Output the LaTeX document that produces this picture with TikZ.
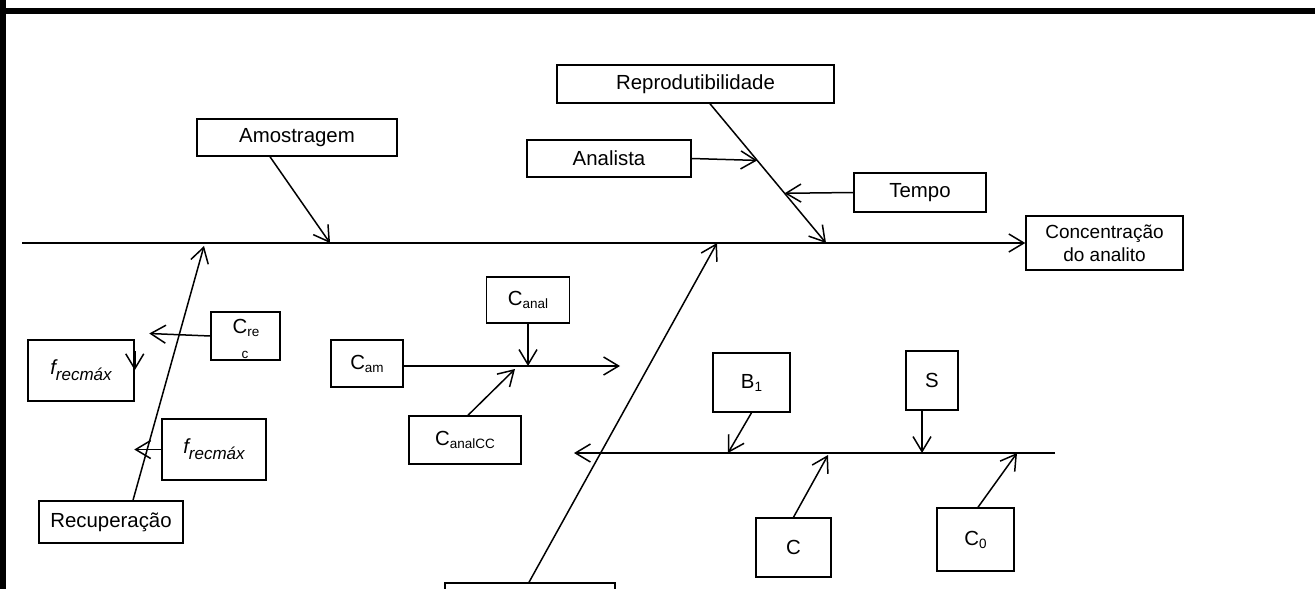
\documentclass[tikz,border=0pt]{standalone}
\usepackage{fontspec}
\setmainfont{Liberation Sans}
\usetikzlibrary{arrows.meta,calc}
\newcommand\mysub[1]{\raisebox{-3pt}{\fontsize{13.5}{14}\selectfont #1}}
\newcommand\myfrec{{\itshape f\raisebox{-6pt}{\fontsize{17}{17}\selectfont recmáx}}}
\tikzset{
  box/.style={draw, line width=1.5pt, inner sep=0pt, font=\fontsize{20.4}{24}\selectfont},
  ln/.style={line width=1.5pt},
  arr/.style={line width=1.5pt, -{Straight Barb[length=15pt,width=18pt]}},
}
\begin{document}
\begin{tikzpicture}[x=1pt,y=-1pt]
\useasboundingbox (0,0) rectangle (1315,589);
\clip (0,0) rectangle (1315,589);
% frame bands
\fill[black] (0,8) rectangle (1315,14);
\fill[black] (0,0) rectangle (6,589);
% nodes
\node[box, minimum width=200pt, minimum height=37pt] (amo) at (297,137.5) {Amostragem};
\node[box, minimum width=277pt, minimum height=38pt] (rep) at (695.5,84) {Reprodutibilidade};
\node[box, minimum width=164pt, minimum height=37pt] (ana) at (609,158.5) {Analista};
\node[box, minimum width=132pt, minimum height=39pt] (tem) at (920,192.5) {Tempo};
\node[box, minimum width=157pt, minimum height=54pt, align=center, font=\fontsize{19}{23}\selectfont] (con) at (1104.5,243) {Concentração\\do analito};
\node[box, minimum width=144pt, minimum height=42pt] (rec) at (111,522) {Recuperação};
\node[box, minimum width=69pt, minimum height=48pt] (crec) at (245.5,336) {};
\node[font=\fontsize{20.4}{24}\selectfont, inner sep=0pt] (crect) at (246,328) {C\mysub{re}};
\node[font=\fontsize{13.5}{14}\selectfont, inner sep=0pt] (crecc) at (245,355) {c};
\node[box, minimum width=106pt, minimum height=61pt] (fa) at (81,370.5) {\myfrec};
\node[box, minimum width=104pt, minimum height=61pt] (fb) at (214,449.5) {\myfrec};
\node[box, minimum width=72pt, minimum height=47pt] (cam) at (367,363.5) {C\mysub{am}};
\node[box, minimum width=83pt, minimum height=46pt] (can) at (528,300) {C\mysub{anal}};
\node[box, minimum width=112pt, minimum height=48pt] (cac) at (465,440) {C\mysub{analCC}};
\node[box, minimum width=170pt, minimum height=40pt] (bot) at (530,603) {};
\node[box, minimum width=77pt, minimum height=59pt] (b1) at (751.5,382.5) {B\mysub{1}};
\node[box, minimum width=52pt, minimum height=59pt] (s) at (932,380.5) {S};
\node[box, minimum width=75pt, minimum height=59pt] (c) at (793.5,547.5) {C};
\node[box, minimum width=77pt, minimum height=63pt] (c0) at (975.5,539.5) {C\mysub{0}};
% coordinates
\coordinate (spL) at (22,243);
\coordinate (sA) at (330,243);
\coordinate (sR) at (826,243);
\coordinate (sRec) at (204,246);
\coordinate (sBig) at (717,243);
\coordinate (repS) at ([xshift=14.5pt]rep.south);
\coordinate (mJ) at (528,366);
\coordinate (mEnd) at (620,366);
\coordinate (bR) at (1055,453);
\coordinate (bL) at (574,453);
\coordinate (bB1) at (728,453);
\coordinate (bS) at (922,453);
\coordinate (bC) at (828,455);
\coordinate (bC0) at (1017,453);
% main spine
\draw[arr] (spL) -- (con.west);
\draw[arr] ([xshift=-27pt]amo.south) -- (sA);
\draw[arr] (repS) -- (sR);
\draw[arr] (ana.east) -- ($(repS)!0.407!(sR)$);
\draw[arr] (tem.west) -- ($(repS)!0.643!(sR)$);
% recuperacao branch
\draw[arr] ([xshift=22pt]rec.north) -- (sRec);
\draw[arr] (crec.west) -- ([xshift=-61pt,yshift=2.5pt]crec.west);
\draw[arr] (fb.west) -- ([xshift=-27pt]fb.west);
\draw[arr] ([yshift=-12pt]fa.north east) -- ([yshift=-31pt]fa.north east);
% middle branch
\draw[arr] ([yshift=-2.5pt]cam.east) -- (mEnd);
\draw[arr] (can.south) -- (mJ);
\draw[arr] ([xshift=3pt]cac.north) -- (515,369);
% big diagonal
\draw[arr] ([xshift=-1pt]bot.north) -- (sBig);
% bottom right branch
\draw[arr] (bR) -- (bL);
\draw[arr] (b1.south) -- (bB1);
\draw[arr] ([xshift=-10pt]s.south) -- (bS);
\draw[arr] (c.north) -- (bC);
\draw[arr] ([xshift=2.5pt]c0.north) -- (bC0);
\end{tikzpicture}
\end{document}
